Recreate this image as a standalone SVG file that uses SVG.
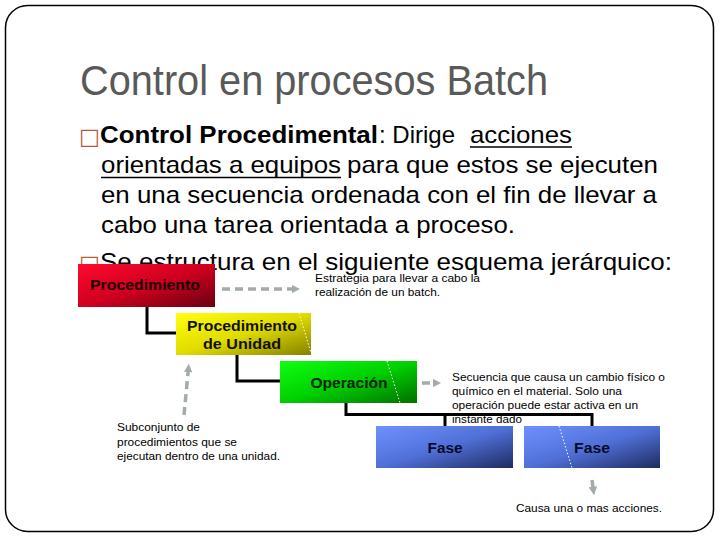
<svg xmlns="http://www.w3.org/2000/svg" width="720" height="540" viewBox="0 0 720 540">
<style>
.title{font-family:"Liberation Sans",Arial,sans-serif;font-size:42px;fill:#595959}
.body{font-family:"Liberation Sans",Arial,sans-serif;font-size:24px;fill:#000}
.bold{font-weight:bold}
.bul{font-family:"DejaVu Sans",sans-serif;font-size:22px;fill:#b85a36}
.note{font-family:"Liberation Sans",Arial,sans-serif;font-size:11px;fill:#000}
.lbl{font-family:"Liberation Sans",Arial,sans-serif;font-size:14px;font-weight:bold;text-anchor:middle}
.conn{stroke:#000;stroke-width:3;fill:none}
.dash{stroke:#a3abab;stroke-width:3.5;fill:none;stroke-dasharray:8 5}
.dot{stroke:#fff;stroke-width:1;stroke-dasharray:1.5 2;fill:none}
.ul{stroke:#000;stroke-width:1.5}
</style>
<defs>
<linearGradient id="gRed" x1="0" y1="0" x2="1" y2="1"><stop offset="0" stop-color="#ff0a30"/><stop offset="0.5" stop-color="#d0001e"/><stop offset="1" stop-color="#6a0012"/></linearGradient>
<linearGradient id="gYel" x1="0" y1="0" x2="1" y2="1"><stop offset="0" stop-color="#ffff10"/><stop offset="0.5" stop-color="#e0dc00"/><stop offset="1" stop-color="#858000"/></linearGradient>
<linearGradient id="gGrn" x1="0" y1="0" x2="1" y2="1"><stop offset="0" stop-color="#10ff10"/><stop offset="0.5" stop-color="#00d000"/><stop offset="1" stop-color="#007000"/></linearGradient>
<linearGradient id="gBlu" x1="0" y1="0" x2="1" y2="1"><stop offset="0" stop-color="#7090ff"/><stop offset="0.5" stop-color="#5070d8"/><stop offset="1" stop-color="#1f2c60"/></linearGradient>
<marker id="ah" viewBox="0 0 10 10" refX="5" refY="5" markerWidth="2.4" markerHeight="2.4" orient="auto" markerUnits="strokeWidth"><path d="M0,0 L10,5 L0,10 z" fill="#a3abab"/></marker>
</defs>
<rect x="5.5" y="5.5" width="708" height="526" rx="22" fill="#fff" stroke="#000" stroke-width="1.5"/>
<text class="title" x="80" y="95" textLength="468" lengthAdjust="spacingAndGlyphs">Control en procesos Batch</text>
<g id="body">
<text class="bul" x="79" y="144">□</text>
<text class="body bold" x="100" y="143" textLength="278" lengthAdjust="spacingAndGlyphs">Control Procedimental</text>
<text class="body" x="379" y="143" textLength="76" lengthAdjust="spacingAndGlyphs">: Dirige</text>
<text class="body" x="470" y="143" textLength="102" lengthAdjust="spacingAndGlyphs">acciones</text>
<line class="ul" x1="470" y1="147" x2="572" y2="147"/>
<text class="body" x="101" y="173" textLength="240" lengthAdjust="spacingAndGlyphs">orientadas a equipos</text>
<line class="ul" x1="101" y1="177.5" x2="341" y2="177.5"/>
<text class="body" x="347" y="173" textLength="311" lengthAdjust="spacingAndGlyphs">para que estos se ejecuten</text>
<text class="body" x="101" y="203" textLength="556" lengthAdjust="spacingAndGlyphs">en una secuencia ordenada con el fin de llevar a</text>
<text class="body" x="101" y="233" textLength="414" lengthAdjust="spacingAndGlyphs">cabo una tarea orientada a proceso.</text>
<text class="bul" x="79" y="271">□</text>
<text class="body" x="100" y="270" textLength="572" lengthAdjust="spacingAndGlyphs">Se estructura en el siguiente esquema jerárquico:</text>
</g>
<g id="connectors">
<polyline class="conn" points="147,306 147,333 176,333"/>
<polyline class="conn" points="237,354 237,381 280,381"/>
<polyline class="conn" points="346,403 346,414.5 592,414.5 592,426"/>
<line class="conn" x1="445" y1="414.5" x2="445" y2="426"/>
<line class="dash" x1="222" y1="289" x2="296" y2="289" marker-end="url(#ah)"/>
<line class="dash" x1="184" y1="415" x2="188.5" y2="368" marker-end="url(#ah)"/>
<line class="dash" x1="422" y1="383" x2="437" y2="383" marker-end="url(#ah)"/>
<line class="dash" x1="592" y1="480" x2="593.5" y2="491" marker-end="url(#ah)"/>
</g>
<g id="n-procedimiento">
<rect x="78" y="264" width="137" height="43" fill="url(#gRed)"/>
<text class="lbl" x="145" y="290" fill="#200000" textLength="110" lengthAdjust="spacingAndGlyphs">Procedimiento</text>
</g>
<g id="n-procunidad">
<rect x="176" y="313" width="135" height="42" fill="url(#gYel)"/>
<line class="dot" x1="299" y1="313" x2="311" y2="353"/>
<text class="lbl" x="242" y="331" fill="#111100" textLength="110" lengthAdjust="spacingAndGlyphs">Procedimiento</text>
<text class="lbl" x="242" y="349" fill="#111100" textLength="78" lengthAdjust="spacingAndGlyphs">de Unidad</text>
</g>
<g id="n-operacion">
<rect x="280" y="361" width="137" height="42" fill="url(#gGrn)"/>
<line class="dot" x1="387" y1="361" x2="400" y2="403"/>
<text class="lbl" x="349" y="388" fill="#002200" textLength="77" lengthAdjust="spacingAndGlyphs">Operación</text>
</g>
<g id="n-fase1">
<rect x="376" y="426" width="137" height="42" fill="url(#gBlu)"/>
<text class="lbl" x="445" y="453" fill="#0a0a2a" textLength="35" lengthAdjust="spacingAndGlyphs">Fase</text>
</g>
<g id="n-fase2">
<rect x="524" y="426" width="136" height="42" fill="url(#gBlu)"/>
<line class="dot" x1="559" y1="426" x2="572" y2="468"/>
<text class="lbl" x="592" y="453" fill="#0a0a2a" textLength="36" lengthAdjust="spacingAndGlyphs">Fase</text>
</g>
<g id="notes">
<text class="note" x="315" y="282" textLength="165" lengthAdjust="spacingAndGlyphs">Estrategia para llevar a cabo la</text>
<text class="note" x="315" y="296" textLength="125" lengthAdjust="spacingAndGlyphs">realización de un batch.</text>
<text class="note" x="452" y="381" textLength="213" lengthAdjust="spacingAndGlyphs">Secuencia que causa un cambio físico o</text>
<text class="note" x="452" y="395" textLength="170" lengthAdjust="spacingAndGlyphs">químico en el material. Solo una</text>
<text class="note" x="452" y="409" textLength="186" lengthAdjust="spacingAndGlyphs">operación puede estar activa en un</text>
<text class="note" x="452" y="423" textLength="70" lengthAdjust="spacingAndGlyphs">instante dado</text>
<text class="note" x="117" y="431" textLength="83" lengthAdjust="spacingAndGlyphs">Subconjunto de</text>
<text class="note" x="117" y="445.5" textLength="120" lengthAdjust="spacingAndGlyphs">procedimientos que se</text>
<text class="note" x="117" y="460" textLength="163" lengthAdjust="spacingAndGlyphs">ejecutan dentro de una unidad.</text>
<text class="note" x="516" y="511.5" textLength="146" lengthAdjust="spacingAndGlyphs">Causa una o mas acciones.</text>
</g>
</svg>
